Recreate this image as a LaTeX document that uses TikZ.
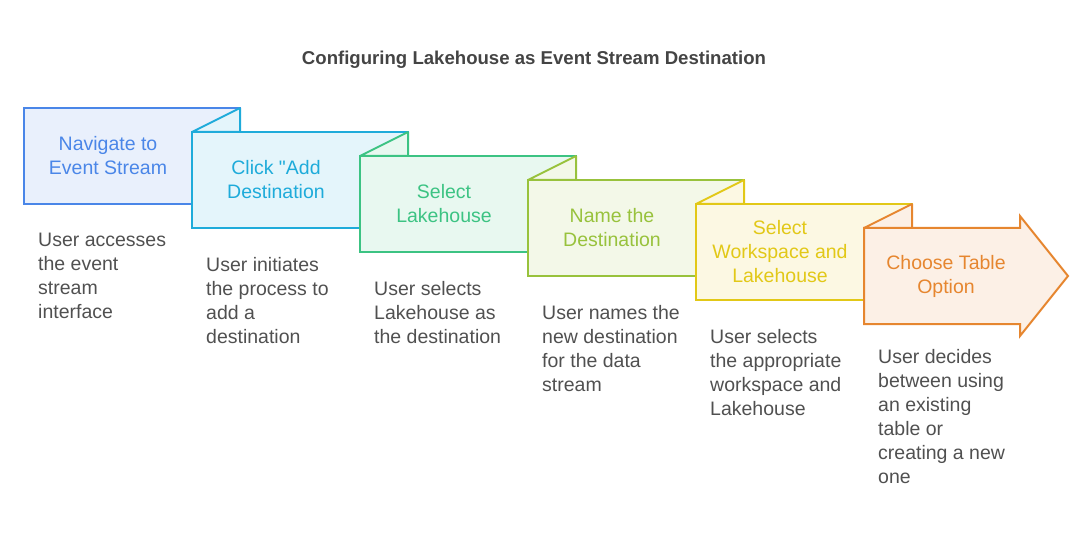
\documentclass[tikz,border=0pt]{standalone}
\usepackage{fontspec}
\setmainfont{Liberation Sans}[Ligatures=TeXOff]
\usetikzlibrary{positioning}

\definecolor{stepA}{HTML}{4A86E8}
\definecolor{stepB}{HTML}{1EABDA}
\definecolor{stepC}{HTML}{3CC383}
\definecolor{stepD}{HTML}{98C23C}
\definecolor{stepE}{HTML}{E2C817}
\definecolor{stepF}{HTML}{E6862F}
\definecolor{titlegray}{HTML}{444444}
\definecolor{descgray}{HTML}{505050}

\tikzset{
  stepshape/.style={line width=2pt, line join=miter},
  steptab/.style={line width=2pt, line join=bevel},
  steplabel/.style={align=center, inner sep=0pt, font=\fontsize{19.5}{24}\selectfont},
  stepdesc/.style={align=left, anchor=north west, inner sep=0pt, text=descgray,
    font=\fontsize{19.5}{24}\selectfont}
}

\begin{document}
\begin{tikzpicture}[x=1pt,y=-1pt]
    \useasboundingbox (0,0) rectangle (1092,540);
    \node[font=\bfseries\fontsize{18.6}{22}\selectfont, text=titlegray] (title) at (534,60)
        {Configuring Lakehouse as Event Stream Destination};

    % folded steps
    \foreach \i/\c/\lab/\des in {
        0/stepA/{Navigate to\\Event Stream}/{User accesses\\the event\\stream\\interface},
        1/stepB/{Click "Add\\Destination}/{User initiates\\the process to\\add a\\destination},
        2/stepC/{Select\\Lakehouse}/{User selects\\Lakehouse as\\the destination},
        3/stepD/{Name the\\Destination}/{User names the\\new destination\\for the data\\stream},
        4/stepE/{Select\\Workspace and\\Lakehouse}/{User selects\\the appropriate\\workspace and\\Lakehouse}}
    {
        \pgfmathsetmacro\bx{24+168*\i}
        \pgfmathsetmacro\by{108+24*\i}
        \filldraw[stepshape, draw=\c, fill=\c!12] (\bx,\by) rectangle ++(216,96);
        \ifnum\i>0
            \filldraw[steptab, draw=\c, fill=\c!12] (\bx,\by) -- ++(48,-24) -- ++(0,24) -- cycle;
        \fi
        \node[steplabel, text=\c] (label\i) at (\bx+84,\by+48) {\lab};
        \node[stepdesc] (desc\i) at (\bx+14,\by+125) {\des};
    }

    % last step is an arrow
    \filldraw[stepshape, draw=stepF, fill=stepF!12] (864,228) -- (1020,228) -- (1020,216)
        -- (1068,276) -- (1020,336) -- (1020,324) -- (864,324) -- cycle;
    \filldraw[steptab, draw=stepF, fill=stepF!12] (864,228) -- (912,204) -- (912,228) -- cycle;
    \node[steplabel, text=stepF] (label5) at (946,276) {Choose Table\\Option};
    \node[stepdesc] (desc5) at (878,349) {User decides\\between using\\an existing\\table or\\creating a new\\one};
\end{tikzpicture}
\end{document}
